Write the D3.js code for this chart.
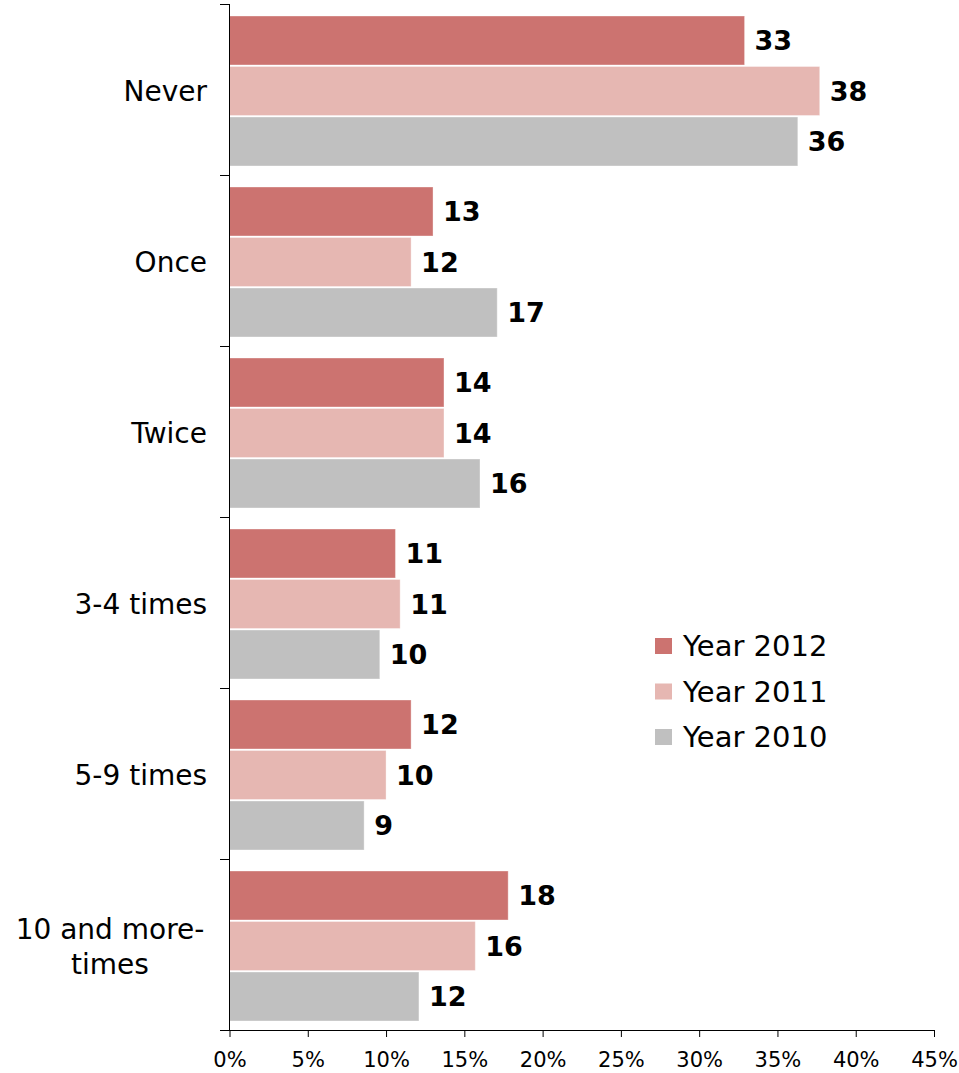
<!DOCTYPE html>
<html>
<head>
<meta charset="utf-8">
<script src="https://cdn.jsdelivr.net/npm/d3@7"></script>
<style>
  html, body { margin: 0; padding: 0; background: #fff; }
  svg { display: block; font-family: "DejaVu Sans", Verdana, sans-serif; }
</style>
</head>
<body>
<svg id="chart" width="959" height="1073"></svg>
<script>
const categories = ["Never", "Once", "Twice", "3-4 times", "5-9 times", "10 and more-times"];
const categoryLines = [["Never"], ["Once"], ["Twice"], ["3-4 times"], ["5-9 times"], ["10 and more-", "times"]];
const seriesNames = ["Year 2012", "Year 2011", "Year 2010"];
const year2012 = [32.9, 13.0, 13.7, 10.6, 11.6, 17.8];
const year2011 = [37.7, 11.6, 13.7, 10.9, 10.0, 15.7];
const year2010 = [36.3, 17.1, 16.0, 9.6, 8.6, 12.1];
const seriesColors = ["#cc7370", "#e6b7b2", "#c0c0c0"];
const xTicks = [0, 5, 10, 15, 20, 25, 30, 35, 40, 45];

const seriesValues = [year2012, year2011, year2010];
const data = categories.map((c, i) => ({
  category: c,
  lines: categoryLines[i],
  values: seriesNames.map((s, j) => ({ series: s, value: seriesValues[j][i], color: seriesColors[j] }))
}));

const svg = d3.select("#chart");
const x0 = 229.5, x1 = 934, yTop = 4, yBottom = 1030;

const x = d3.scaleLinear().domain([0, 45]).range([x0, x1]);
const y = d3.scaleBand().domain(categories).range([yTop, yBottom]).padding(0);
const ySub = d3.scaleBand().domain(seriesNames).range([12, y.bandwidth() - 9]).paddingInner(0.03);

// Bars
const groups = svg.append("g").selectAll("g.cat").data(data).join("g")
  .attr("class", "cat")
  .attr("transform", d => `translate(0,${y(d.category)})`);

groups.selectAll("rect").data(d => d.values).join("rect")
  .attr("x", x(0))
  .attr("y", d => ySub(d.series))
  .attr("width", d => x(d.value) - x(0))
  .attr("height", ySub.bandwidth())
  .attr("fill", d => d.color)
  .attr("stroke", "#ffffff")
  .attr("stroke-opacity", 0.35)
  .attr("stroke-width", 1);

groups.selectAll("text.val").data(d => d.values).join("text")
  .attr("class", "val")
  .attr("x", d => x(d.value) + 10)
  .attr("y", d => ySub(d.series) + ySub.bandwidth() / 2)
  .attr("dy", "0.36em")
  .attr("font-size", 27)
  .attr("font-weight", "bold")
  .attr("fill", "#000")
  .text(d => d3.format(".0f")(d.value));

// X axis
const xAxis = d3.axisBottom(x).tickValues(xTicks).tickFormat(d => d + "%").tickSize(7).tickSizeOuter(0);
const gx = svg.append("g").attr("transform", `translate(0,${yBottom})`).call(xAxis);
gx.select(".domain").remove();
gx.selectAll(".tick line").attr("stroke", "#000").attr("stroke-width", 1);
gx.selectAll(".tick text").attr("font-size", 21).attr("font-family", "DejaVu Sans, Verdana, sans-serif")
  .attr("fill", "#000").attr("dy", "1.3em");
svg.append("line").attr("x1", 220).attr("x2", x1).attr("y1", yBottom + 0.5).attr("y2", yBottom + 0.5)
  .attr("stroke", "#000");

// Y axis line and category boundary ticks
svg.append("line").attr("x1", x0).attr("x2", x0).attr("y1", yTop).attr("y2", yBottom)
  .attr("stroke", "#000");
const boundaries = categories.map(c => y(c)).concat([yBottom]);
svg.append("g").selectAll("line").data(boundaries).join("line")
  .attr("x1", 220).attr("x2", x0).attr("y1", d => d + 0.5).attr("y2", d => d + 0.5)
  .attr("stroke", "#000");

// Category labels
const lineH = 35;
svg.append("g").selectAll("text").data(data).join("text")
  .attr("font-size", 28)
  .attr("fill", "#000")
  .each(function(d) {
    const t = d3.select(this);
    const cy = y(d.category) + y.bandwidth() / 2 + 1.5;
    const n = d.lines.length;
    d.lines.forEach((ln, i) => {
      t.append("tspan")
        .attr("x", n > 1 ? 110 : 207)
        .attr("text-anchor", n > 1 ? "middle" : "end")
        .attr("y", cy + (i - (n - 1) / 2) * lineH)
        .attr("dy", "0.36em")
        .text(ln);
    });
  });

// Legend
const legend = svg.append("g").attr("transform", "translate(655,638)");
const li = legend.selectAll("g").data(seriesNames).join("g")
  .attr("transform", (d, i) => `translate(0,${i * 45.5})`);
li.append("rect").attr("width", 17).attr("height", 16).attr("fill", (d, i) => seriesColors[i]);
li.append("text").attr("x", 28).attr("y", 8).attr("dy", "0.36em")
  .attr("font-size", 29).attr("fill", "#000").text(d => d);
</script>
</body>
</html>
